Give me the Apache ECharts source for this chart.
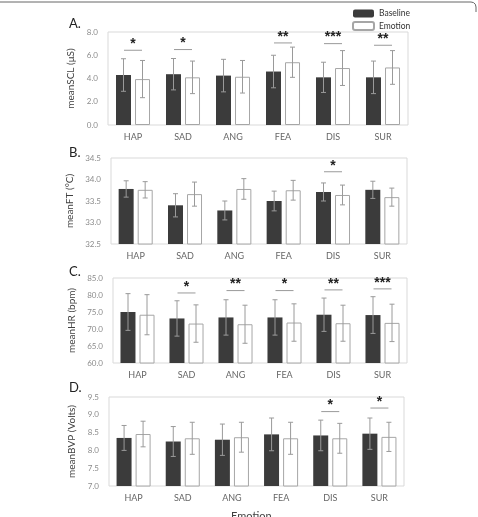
<!DOCTYPE html>
<html>
<head>
<meta charset="utf-8">
<script src="https://cdn.jsdelivr.net/npm/echarts@6/dist/echarts.min.js"></script>
<style>
html,body{margin:0;padding:0;background:#fff;}
#main{width:478px;height:517px;}
</style>
</head>
<body>
<div id="main"></div>
<script>
var categories = ['HAP','SAD','ANG','FEA','DIS','SUR'];

// A. meanSCL
var sclBase = [4.30, 4.37, 4.25, 4.60, 4.10, 4.10];
var sclBaseSd = [1.40, 1.35, 1.40, 1.40, 1.30, 1.40];
var sclEmo = [3.95, 4.10, 4.15, 5.40, 4.90, 4.95];
var sclEmoSd = [1.60, 1.40, 1.40, 1.30, 1.50, 1.45];
var sclSig = [['HAP', 6.43, '*'], ['SAD', 6.49, '*'], ['FEA', 7.06, '**'], ['DIS', 7.0, '***'], ['SUR', 6.86, '**']];

// B. meanFT
var ftBase = [33.78, 33.40, 33.28, 33.50, 33.71, 33.76];
var ftBaseSd = [0.19, 0.27, 0.22, 0.23, 0.21, 0.20];
var ftEmo = [33.76, 33.66, 33.78, 33.75, 33.64, 33.59];
var ftEmoSd = [0.19, 0.28, 0.24, 0.23, 0.23, 0.21];
var ftSig = [['DIS', 34.18, '*']];

// C. meanHR
var hrBase = [75.0, 73.1, 73.4, 73.4, 74.2, 74.1];
var hrBaseSd = [5.4, 5.2, 5.2, 5.2, 4.9, 5.4];
var hrEmo = [74.2, 71.6, 71.4, 71.9, 71.7, 71.8];
var hrEmoSd = [5.9, 5.5, 5.6, 5.5, 5.3, 5.5];
var hrSig = [['SAD', 80.6, '*'], ['ANG', 81.3, '**'], ['FEA', 81.3, '*'], ['DIS', 81.5, '**'], ['SUR', 81.8, '***']];

// D. meanBVP
var bvpBase = [8.35, 8.25, 8.30, 8.45, 8.42, 8.47];
var bvpBaseSd = [0.35, 0.42, 0.44, 0.46, 0.43, 0.44];
var bvpEmo = [8.46, 8.34, 8.37, 8.34, 8.34, 8.38];
var bvpEmoSd = [0.36, 0.45, 0.42, 0.45, 0.42, 0.41];
var bvpSig = [['DIS', 9.09, '*'], ['SUR', 9.19, '*']];

var panels = [
	{letter:'A.', name:'meanSCL (\u03bcS)', base:sclBase, baseSd:sclBaseSd, emo:sclEmo, emoSd:sclEmoSd, sig:sclSig, min:0, max:8, interval:2,
	 grid:{left:108, top:32, width:300, height:93}, letterPos:[69,17]},
	{letter:'B.', name:'meanFT (\u00b0C)', base:ftBase, baseSd:ftBaseSd, emo:ftEmo, emoSd:ftEmoSd, sig:ftSig, min:32.5, max:34.5, interval:0.5,
	 grid:{left:111, top:158, width:296, height:86}, letterPos:[69,146]},
	{letter:'C.', name:'meanHR (bpm)', base:hrBase, baseSd:hrBaseSd, emo:hrEmo, emoSd:hrEmoSd, sig:hrSig, min:60, max:85, interval:5,
	 grid:{left:113, top:278, width:294, height:85}, letterPos:[69,265]},
	{letter:'D.', name:'meanBVP (Volts)', base:bvpBase, baseSd:bvpBaseSd, emo:bvpEmo, emoSd:bvpEmoSd, sig:bvpSig, min:7, max:9.5, interval:0.5,
	 grid:{left:109, top:397, width:295, height:89}, letterPos:[69,381]}
];

var FONT = 'Lato';
var BAR_W = 15;
var OFFSET = 9.5;

function errRender(offset){
	return function(params, api){
		var c = api.value(0);
		var lo = api.coord([c, api.value(1)]);
		var hi = api.coord([c, api.value(2)]);
		var x = lo[0] + offset;
		var st = {stroke:'#9a9a9a', lineWidth:1};
		return {type:'group', children:[
			{type:'line', shape:{x1:x, y1:lo[1], x2:x, y2:hi[1]}, style:st},
			{type:'line', shape:{x1:x-2.5, y1:hi[1], x2:x+2.5, y2:hi[1]}, style:st},
			{type:'line', shape:{x1:x-2.5, y1:lo[1], x2:x+2.5, y2:lo[1]}, style:st}
		]};
	};
}

function sigRender(params, api){
	var p = api.coord([api.value(0), api.value(1)]);
	var stars = api.value(2);
	return {type:'group', children:[
		{type:'line', shape:{x1:p[0]-9, y1:p[1], x2:p[0]+9, y2:p[1]}, style:{stroke:'#9a9a9a', lineWidth:1}},
		{type:'text', x:p[0], y:p[1]+1, style:{text:stars, fill:'#222', font:'bold 14px "Liberation Sans"', textAlign:'center', textVerticalAlign:'bottom'}}
	]};
}

var grids = [], xAxes = [], yAxes = [], series = [], graphics = [];
for(var i=0;i<panels.length;i++){
	var p = panels[i];
	grids.push({left:p.grid.left, top:p.grid.top, width:p.grid.width, height:p.grid.height,
		show:true, borderColor:'#d9d9d9', borderWidth:1, backgroundColor:'transparent'});
	xAxes.push({type:'category', gridIndex:i, data:categories,
		axisLine:{show:false}, axisTick:{show:false},
		axisLabel:{color:'#666', fontSize:9, fontFamily:FONT, margin:8}});
	yAxes.push({type:'value', gridIndex:i, min:p.min, max:p.max, interval:p.interval,
		name:p.name, nameLocation:'middle', nameGap:29,
		nameTextStyle:{color:'#404040', fontSize:10, fontFamily:FONT},
		axisLine:{show:false}, axisTick:{show:false}, splitLine:{show:false},
		axisLabel:{color:'#8c8c8c', fontSize:8, fontFamily:FONT, margin:10,
			formatter:function(v){ return v.toFixed(1); }}});
	var baseErr = [], emoErr = [];
	for(var j=0;j<categories.length;j++){
		baseErr.push([j, p.base[j]-p.baseSd[j], p.base[j]+p.baseSd[j]]);
		emoErr.push([j, p.emo[j]-p.emoSd[j], p.emo[j]+p.emoSd[j]]);
	}
	var sigData = [];
	for(var k=0;k<p.sig.length;k++){
		sigData.push([categories.indexOf(p.sig[k][0]), p.sig[k][1], p.sig[k][2]]);
	}
	series.push({name:'Baseline', type:'bar', xAxisIndex:i, yAxisIndex:i, data:p.base,
		barWidth:BAR_W, barGap:'27%', itemStyle:{color:'#3b3b3b'}, silent:true});
	series.push({name:'Emotion', type:'bar', xAxisIndex:i, yAxisIndex:i, data:p.emo,
		barWidth:BAR_W, barGap:'27%', itemStyle:{color:'#ffffff', borderColor:'#a6a6a6', borderWidth:1}, silent:true});
	series.push({type:'custom', xAxisIndex:i, yAxisIndex:i, data:baseErr, renderItem:errRender(-OFFSET), z:5, silent:true});
	series.push({type:'custom', xAxisIndex:i, yAxisIndex:i, data:emoErr, renderItem:errRender(OFFSET), z:5, silent:true});
	series.push({type:'custom', xAxisIndex:i, yAxisIndex:i, data:sigData, renderItem:sigRender, z:6, silent:true});
	graphics.push({type:'text', left:p.letterPos[0], top:p.letterPos[1],
		style:{text:p.letter, fill:'#222', font:'13px "Lato"'}});
}

graphics.push({type:'text', left:231, top:511, style:{text:'Emotion', fill:'#404040', font:'11px "Lato"'}});
// frame edge at the top of the figure
graphics.push({type:'polyline', shape:{points:[[0,2],[471,2],[473.5,2.6],[475.3,4.2],[476,7],[476,12]]},
	style:{fill:null, stroke:'#666', lineWidth:1}, silent:true});

var myChart = echarts.init(document.getElementById('main'));
var option = {
	animation:false,
	backgroundColor:'#fff',
	legend:{
		orient:'vertical', left:352, top:9, padding:0, itemWidth:21, itemHeight:8, itemGap:3,
		data:['Baseline','Emotion'],
		textStyle:{color:'#333', fontSize:8.5, fontFamily:FONT}
	},
	grid:grids,
	xAxis:xAxes,
	yAxis:yAxes,
	series:series,
	graphic:graphics
};
myChart.setOption(option);
</script>
</body>
</html>
